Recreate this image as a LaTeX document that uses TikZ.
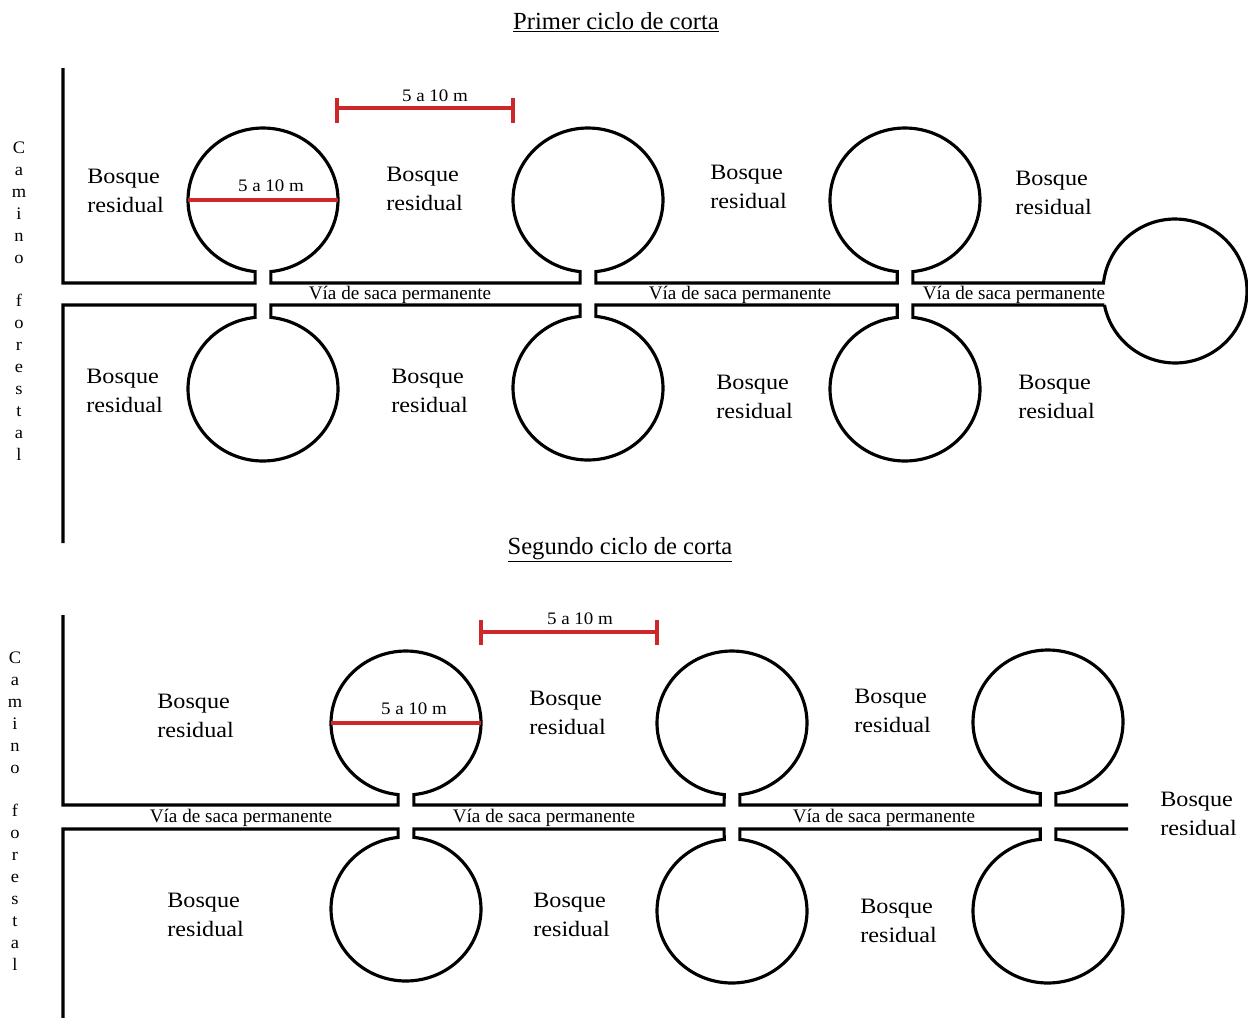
\documentclass[tikz,border=0pt]{standalone}
\usepackage{fontspec}
\setmainfont{Liberation Serif}
\newfontfamily\widefont{Liberation Serif}[FakeStretch=1.1]
\newfontfamily\gaugefont{Liberation Serif}[FakeStretch=1.08]
\newfontfamily\letterfont{Liberation Serif}[FakeStretch=1.05]
\usepackage{tikz}
\usetikzlibrary{calc}
\definecolor{gaugered}{RGB}{204,40,44}

\begin{document}
\begin{tikzpicture}[x=0.02cm, y=-0.02cm]
            \tikzset{wall/.style={draw=black, line width=1.8pt},
                    gauge/.style={draw=gaugered, line width=2pt},
                    forest/.style={anchor=north west, align=left, inner sep=0pt,
                        font=\widefont\fontsize{12.5}{16.4}\selectfont},
                    roadtext/.style={anchor=base, inner sep=0pt, font=\fontsize{10.9}{12}\selectfont},
                    sizetext/.style={anchor=base, inner sep=0pt, font=\gaugefont\fontsize{10}{11}\selectfont},
                    heading/.style={anchor=base, inner sep=0pt, font=\fontsize{14}{16}\selectfont},
                    camino/.style={align=center, inner sep=0pt, font=\letterfont\fontsize{10}{12.47}\selectfont}}
            \useasboundingbox (0,0) rectangle (1248,1018);

            % primer ciclo
            \node[heading] (h1) at (616,29) {\underline{Primer ciclo de corta}};
            \node[camino] (k1) at (19,301) {C\\a\\m\\i\\n\\o\\[12.47pt]f\\o\\r\\e\\s\\t\\a\\l};
            \coordinate (c1) at (263,200);
            \coordinate (c2) at (588,200);
            \coordinate (c3) at (905,200);
            \coordinate (c4) at (263,389);
            \coordinate (c5) at (588,388);
            \coordinate (c6) at (905,389);
            \coordinate (cr) at (1175,291);
            \draw[wall] (63,68) -- (63,283) -- (255.16,283)
                -- ($(c1)+(-96:1.5cm and 1.44cm)$) arc[start angle=-96, end angle=-444, x radius=1.5cm, y radius=1.44cm]
                -- (270.84,283) -- (580.16,283)
                -- ($(c2)+(-96:1.5cm and 1.44cm)$) arc[start angle=-96, end angle=-444, x radius=1.5cm, y radius=1.44cm]
                -- (595.84,283) -- (897.16,283)
                -- ($(c3)+(-96:1.5cm and 1.44cm)$) arc[start angle=-96, end angle=-444, x radius=1.5cm, y radius=1.44cm]
                -- (912.84,283)
                -- ($(cr)+(173.62:1.44cm)$) arc[start angle=173.62, end angle=-168.79, radius=1.44cm];
            \draw[wall] (63,543) -- (63,305) -- (255.16,305)
                -- ($(c4)+(96:1.5cm and 1.44cm)$) arc[start angle=96, end angle=444, x radius=1.5cm, y radius=1.44cm]
                -- (270.84,305) -- (580.16,305)
                -- ($(c5)+(96:1.5cm and 1.44cm)$) arc[start angle=96, end angle=444, x radius=1.5cm, y radius=1.44cm]
                -- (595.84,305) -- (897.16,305)
                -- ($(c6)+(96:1.5cm and 1.44cm)$) arc[start angle=96, end angle=444, x radius=1.5cm, y radius=1.44cm]
                -- (912.84,305) -- ($(cr)+(191.21:1.44cm)$);

            \coordinate (s1) at (337,108);
            \coordinate (s2) at (513,108);
            \draw[gauge] (s1) -- (s2);
            \draw[gauge] (s1) ++(0,-10) -- ++(0,25);
            \draw[gauge] (s2) ++(0,-10) -- ++(0,25);
            \node[sizetext] (m1) at (435,101) {5 a 10 m};
            \draw[gauge] ($(c1)+(-1.5cm,0)$) -- ($(c1)+(1.5cm,0)$);
            \node[sizetext] (m2) at (271,191) {5 a 10 m};

            \node[roadtext] (v1) at (400,299) {Vía de saca permanente};
            \node[roadtext] (v2) at (740,299) {Vía de saca permanente};
            \node[roadtext] (v3) at (1014,299) {Vía de saca permanente};

            \node[forest] (b1) at (87,169) {Bosque\\residual};
            \node[forest] (b2) at (386,167) {Bosque\\residual};
            \node[forest] (b3) at (710,165) {Bosque\\residual};
            \node[forest] (b4) at (1015,171) {Bosque\\residual};
            \node[forest] (b5) at (86,369) {Bosque\\residual};
            \node[forest] (b6) at (391,369) {Bosque\\residual};
            \node[forest] (b7) at (716,375) {Bosque\\residual};
            \node[forest] (b8) at (1018,375) {Bosque\\residual};

            % segundo ciclo
            \node[heading] (h2) at (620,554) {\underline{Segundo ciclo de corta}};
            \node[camino] (k2) at (15,811) {C\\a\\m\\i\\n\\o\\[12.47pt]f\\o\\r\\e\\s\\t\\a\\l};
            \coordinate (d1) at (406,723);
            \coordinate (d2) at (732,723);
            \coordinate (d3) at (1048,722);
            \coordinate (d4) at (406,909);
            \coordinate (d5) at (732,911);
            \coordinate (d6) at (1048,911);
            \draw[wall] (63,615) -- (63,805) -- (398.16,805)
                -- ($(d1)+(-96:1.5cm and 1.44cm)$) arc[start angle=-96, end angle=-444, x radius=1.5cm, y radius=1.44cm]
                -- (413.84,805) -- (724.16,805)
                -- ($(d2)+(-96:1.5cm and 1.44cm)$) arc[start angle=-96, end angle=-444, x radius=1.5cm, y radius=1.44cm]
                -- (739.84,805) -- (1040.16,805)
                -- ($(d3)+(-96:1.5cm and 1.44cm)$) arc[start angle=-96, end angle=-444, x radius=1.5cm, y radius=1.44cm]
                -- (1055.84,805) -- (1128,805);
            \draw[wall] (63,1018) -- (63,829) -- (398.16,829)
                -- ($(d4)+(96:1.5cm and 1.44cm)$) arc[start angle=96, end angle=444, x radius=1.5cm, y radius=1.44cm]
                -- (413.84,829) -- (724.16,829)
                -- ($(d5)+(96:1.5cm and 1.44cm)$) arc[start angle=96, end angle=444, x radius=1.5cm, y radius=1.44cm]
                -- (739.84,829) -- (1040.16,829)
                -- ($(d6)+(96:1.5cm and 1.44cm)$) arc[start angle=96, end angle=444, x radius=1.5cm, y radius=1.44cm]
                -- (1055.84,829) -- (1128,829);

            \coordinate (s3) at (481,632);
            \coordinate (s4) at (657,632);
            \draw[gauge] (s3) -- (s4);
            \draw[gauge] (s3) ++(0,-12) -- ++(0,25);
            \draw[gauge] (s4) ++(0,-12) -- ++(0,25);
            \node[sizetext] (m3) at (580,624) {5 a 10 m};
            \draw[gauge] ($(d1)+(-1.5cm,0)$) -- ($(d1)+(1.5cm,0)$);
            \node[sizetext] (m4) at (414,714) {5 a 10 m};

            \node[roadtext] (v4) at (241,822) {Vía de saca permanente};
            \node[roadtext] (v5) at (544,822) {Vía de saca permanente};
            \node[roadtext] (v6) at (884,822) {Vía de saca permanente};

            \node[forest] (b9) at (157,694) {Bosque\\residual};
            \node[forest] (b10) at (529,691) {Bosque\\residual};
            \node[forest] (b11) at (854,689) {Bosque\\residual};
            \node[forest] (b12) at (1160,792) {Bosque\\residual};
            \node[forest] (b13) at (167,893) {Bosque\\residual};
            \node[forest] (b14) at (533,893) {Bosque\\residual};
            \node[forest] (b15) at (860,899) {Bosque\\residual};
        \end{tikzpicture}
\end{document}
